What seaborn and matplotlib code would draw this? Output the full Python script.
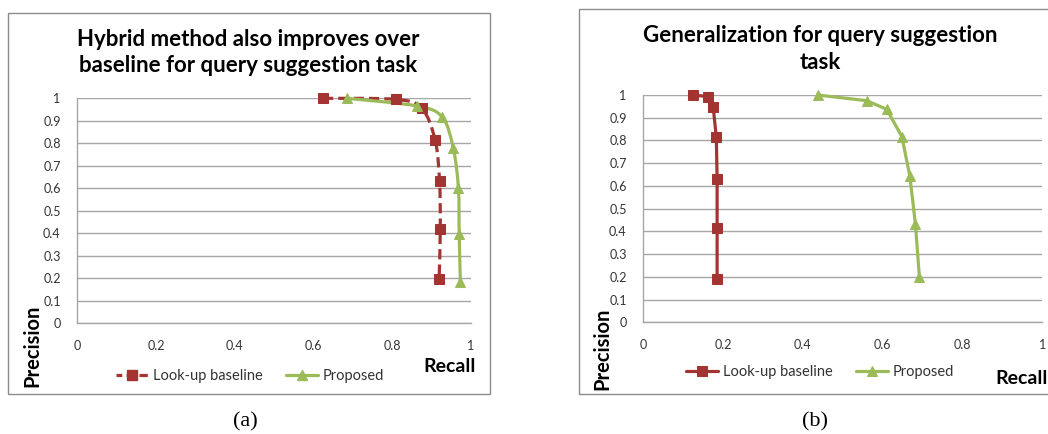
import matplotlib
matplotlib.use("Agg")
import matplotlib.pyplot as plt
import seaborn as sns
import pandas as pd
from matplotlib.patches import Rectangle, PathPatch
from matplotlib.path import Path
from matplotlib.lines import Line2D

# ---- data ----
a_base_recall = [0.624, 0.81, 0.875, 0.909, 0.920, 0.922, 0.919]
a_base_prec = [1.0, 0.995, 0.955, 0.814, 0.634, 0.419, 0.196]
a_prop_recall = [0.684, 0.862, 0.927, 0.955, 0.968, 0.970, 0.973]
a_prop_prec = [1.0, 0.966, 0.916, 0.778, 0.600, 0.397, 0.185]

b_base_recall = [0.124, 0.162, 0.175, 0.183, 0.185, 0.185, 0.185]
b_base_prec = [1.0, 0.993, 0.949, 0.814, 0.630, 0.413, 0.192]
b_prop_recall = [0.437, 0.560, 0.610, 0.648, 0.668, 0.682, 0.692]
b_prop_prec = [1.0, 0.975, 0.937, 0.817, 0.644, 0.432, 0.198]

series_names = ["Look-up baseline", "Proposed"]
titles = ["Hybrid method also improves over\nbaseline for query suggestion task",
          "Generalization for query suggestion\ntask"]
captions = ["(a)", "(b)"]
x_ticks = [0, 0.2, 0.4, 0.6, 0.8, 1]
x_tick_labels = ["0", "0.2", "0.4", "0.6", "0.8", "1"]
y_ticks = [0, 0.1, 0.2, 0.3, 0.4, 0.5, 0.6, 0.7, 0.8, 0.9, 1]
y_tick_labels = ["0", "0.1", "0.2", "0.3", "0.4", "0.5", "0.6", "0.7", "0.8", "0.9", "1"]

RED = "#A33431"
GREEN = "#9BBB59"
GRID = "#A6A6A6"
FONT = ["Lato", "DejaVu Sans"]

sns.set_theme(style="white")
plt.rcParams["font.family"] = FONT

W, H = 1048, 434
fig = plt.figure(figsize=(W / 100, H / 100), dpi=100)


def fx(px):
    return px / W


def fy(py):
    return 1 - py / H


def smooth_path(xs, ys):
    """Excel-style smoothed line: cubic Bezier segments through the data points."""
    pts = list(zip(xs, ys))
    n = len(pts)
    verts = [pts[0]]
    codes = [Path.MOVETO]
    for i in range(n - 1):
        p0 = pts[i - 1] if i > 0 else pts[i]
        p1 = pts[i]
        p2 = pts[i + 1]
        p3 = pts[i + 2] if i + 2 < n else pts[i + 1]
        c1 = (p1[0] + (p2[0] - p0[0]) / 6, p1[1] + (p2[1] - p0[1]) / 6)
        c2 = (p2[0] - (p3[0] - p1[0]) / 6, p2[1] - (p3[1] - p1[1]) / 6)
        verts += [c1, c2, p2]
        codes += [Path.CURVE4] * 3
    return Path(verts, codes)


def make_panel(rect_px, box_px, base, prop, smooth, title, title_xy, caption, cap_x,
               prec_xy, recall_xy, legend_xy):
    x0, y0, x1, y1 = rect_px
    ax = fig.add_axes([fx(x0), fy(y1), fx(x1 - x0), (y1 - y0) / H])
    bx0, by0, bx1, by1 = box_px
    fig.patches.append(Rectangle((fx(bx0), fy(by1)), fx(bx1 - bx0), (by1 - by0) / H,
                                 transform=fig.transFigure, fill=False,
                                 edgecolor="#8C8C8C", lw=1.0, zorder=0))
    df_b = pd.DataFrame({"Recall": base[0], "Precision": base[1]})
    df_p = pd.DataFrame({"Recall": prop[0], "Precision": prop[1]})
    line_w = 2.3
    ms = 7.5
    if smooth:
        sns.lineplot(data=df_b, x="Recall", y="Precision", sort=False, estimator=None,
                     ax=ax, color=RED, marker="s", markersize=ms, markeredgecolor=RED,
                     linestyle="none", clip_on=False, zorder=4, legend=False)
        sns.lineplot(data=df_p, x="Recall", y="Precision", sort=False, estimator=None,
                     ax=ax, color=GREEN, marker="^", markersize=ms, markeredgecolor=GREEN,
                     linestyle="none", clip_on=False, zorder=5, legend=False)
        pb = PathPatch(smooth_path(base[0], base[1]), fill=False, edgecolor=RED,
                       lw=line_w, linestyle=(0, (3.2, 1.6)), zorder=3, clip_on=False,
                       capstyle="butt")
        pp = PathPatch(smooth_path(prop[0], prop[1]), fill=False, edgecolor=GREEN,
                       lw=line_w, zorder=3.5, clip_on=False)
        ax.add_patch(pb)
        ax.add_patch(pp)
        handles = [Line2D([], [], color=RED, lw=line_w, linestyle=(0.8, (2.6, 1.4)),
                          marker="s", markersize=ms, markeredgecolor=RED),
                   Line2D([], [], color=GREEN, lw=line_w, marker="^", markersize=ms,
                          markeredgecolor=GREEN)]
        labels = series_names
    else:
        sns.lineplot(data=df_b, x="Recall", y="Precision", sort=False, estimator=None,
                     ax=ax, color=RED, lw=line_w, marker="s", markersize=ms,
                     markeredgecolor=RED, label=series_names[0], clip_on=False, zorder=4)
        sns.lineplot(data=df_p, x="Recall", y="Precision", sort=False, estimator=None,
                     ax=ax, color=GREEN, lw=line_w, marker="^", markersize=ms,
                     markeredgecolor=GREEN, label=series_names[1], clip_on=False, zorder=5)
        handles, labels = ax.get_legend_handles_labels()
        ax.legend_.remove()
    ax.set_xlim(0, 1)
    ax.set_ylim(0, 1)
    ax.set_xticks(x_ticks)
    ax.set_xticklabels(x_tick_labels)
    ax.set_yticks(y_ticks)
    ax.set_yticklabels(y_tick_labels)
    ax.yaxis.grid(True, color=GRID, lw=1.0)
    ax.xaxis.grid(False)
    ax.set_axisbelow(True)
    for s in ["top", "right"]:
        ax.spines[s].set_visible(False)
    for s in ["left", "bottom"]:
        ax.spines[s].set_color(GRID)
        ax.spines[s].set_linewidth(1.0)
    ax.tick_params(axis="both", which="major", direction="out", length=4,
                   width=1.0, color=GRID, labelsize=9, labelcolor="#333333", pad=8)
    ax.set_xlabel("")
    ax.set_ylabel("")
    ax.patch.set_alpha(0)
    fig.text(fx(title_xy[0]), fy(title_xy[1]), title, ha="center", va="center",
             fontsize=16, fontweight="bold", color="black", linespacing=1.32)
    fig.text(fx(prec_xy[0]), fy(prec_xy[1]), "Precision", rotation=90, ha="center",
             va="center", fontsize=14.5, fontweight="bold", color="black")
    fig.text(fx(recall_xy[0]), fy(recall_xy[1]), "Recall", ha="center", va="center",
             fontsize=14, fontweight="bold", color="black")
    fig.legend(handles, labels, loc="center",
               bbox_to_anchor=(fx(legend_xy[0]), fy(legend_xy[1])),
               ncol=2, frameon=False, fontsize=10.5, handlelength=2.2, handletextpad=0.3,
               columnspacing=1.6, labelcolor="#333333")
    fig.text(fx(cap_x), fy(422), caption, ha="center", va="center", fontsize=16,
             family="Liberation Serif", color="black")
    return ax


make_panel((77.3, 98.3, 471, 323.3), (8, 13, 490, 394),
           (a_base_recall, a_base_prec), (a_prop_recall, a_prop_prec), True,
           titles[0], (248, 52.5), captions[0], 245,
           (32, 346), (450, 367), (250, 376))
make_panel((643.3, 95, 1042.3, 322.3), (579, 9, 1052, 394),
           (b_base_recall, b_base_prec), (b_prop_recall, b_prop_prec), False,
           titles[1], (820, 49), captions[1], 815,
           (602, 349), (1022, 379), (820, 372))

fig.savefig("out.png", dpi=100)
